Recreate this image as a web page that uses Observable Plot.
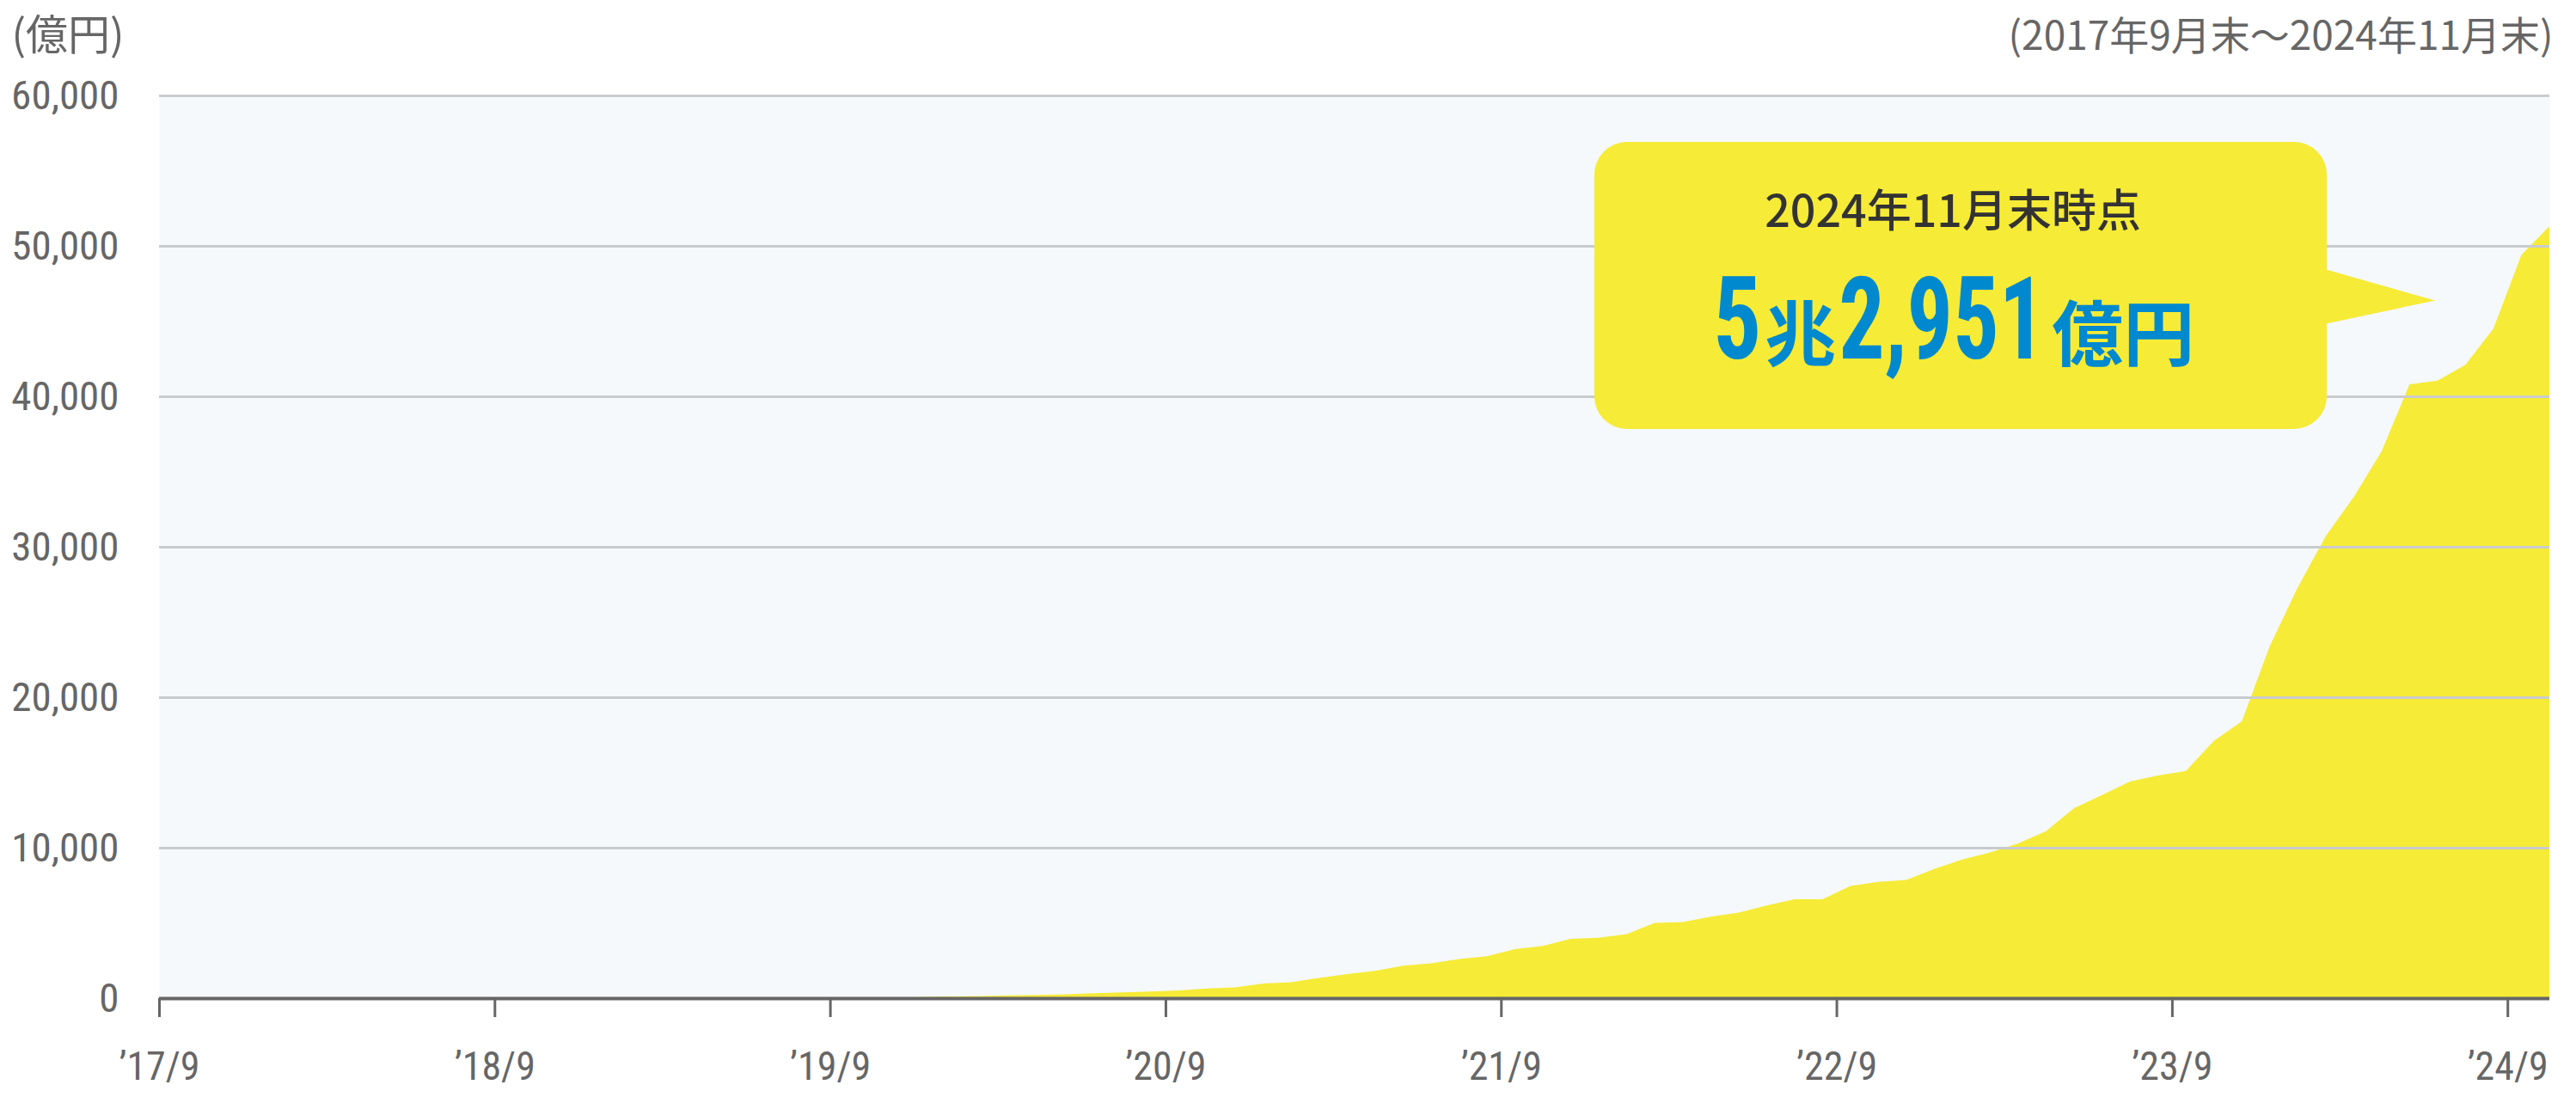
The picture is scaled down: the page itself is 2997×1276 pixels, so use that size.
<!DOCTYPE html>
<html>
<head>
<meta charset="utf-8">
<script src="https://cdn.jsdelivr.net/npm/d3@7"></script>
<script src="https://cdn.jsdelivr.net/npm/@observablehq/plot@0.6"></script>
<style>
  html, body { margin: 0; padding: 0; background: #fff; }
</style>
</head>
<body>
<script>
// Month index: 0 = end of Sep 2017 ... 86 = end of Nov 2024 (unit: 億円)
const monthIndex = d3.range(87);
const values = [
  0, 0, 0, 0, 0, 0, 0, 0, 0, 0,
  0, 0, 0, 0, 0, 0, 0, 0, 0, 0,
  0, 0, 0, 0, 0, 0,
  20, 50, 80, 110, 150, 180, 220, 260, 330, 380,
  440, 510, 650, 720, 970, 1060, 1350, 1600, 1820, 2160,
  2310, 2600, 2790, 3260, 3470, 3950, 4020, 4260, 5000, 5060,
  5420, 5680, 6160, 6570, 6570, 7460, 7730, 7860, 8580, 9220,
  9680, 10280, 11100, 12630, 13500, 14400, 14800, 15100, 17100, 18400,
  23400, 27300, 30700, 33300, 36350, 40800, 41050, 42100, 44500, 49400,
  51300
];
const xTickPositions = [0.5, 12.5, 24.5, 36.5, 48.5, 60.5, 72.5, 84.5];
const xTickLabels = ["’17/9", "’18/9", "’19/9", "’20/9", "’21/9", "’22/9", "’23/9", "’24/9"];
const yTicks = [0, 10000, 20000, 30000, 40000, 50000, 60000];
const unitLabel = "(億円)";
const periodLabel = "(2017年9月末～2024年11月末)";
const calloutTitle = "2024年11月末時点";
const calloutParts = ["5", "兆", "2,951", "億円"];
const calloutKinds = ["num", "cjk", "num", "cjk"];
const calloutWidths = [56, 82, 240, 166];
const calloutGaps = [4, 4, 8];

const data = monthIndex.map((m, i) => ({m, v: values[i]}));

// Callout geometry in data space (month index, 億円)
const callout = {x1: 51.84, x2: 78.04, y1: 37830, y2: 56910};
const pointer = [
  {m: 78.0, v: 48460},
  {m: 81.9, v: 46400},
  {m: 78.0, v: 44860}
];

const NUM_FONT = "'Liberation Sans Narrow', 'Roboto Condensed', 'DejaVu Sans Condensed', 'Noto Sans', sans-serif";
const CJK_FONT = "'Noto Sans CJK JP', 'Noto Sans', sans-serif";
const YELLOW = "#f6eb37";
const GRAY = "#666666";

const plot = Plot.plot({
  width: 2997,
  height: 1276,
  marginTop: 111,
  marginBottom: 115,
  marginLeft: 185,
  marginRight: 31,
  style: {background: "#ffffff", fontFamily: NUM_FONT, color: GRAY},
  x: {domain: [0.5, 86]},
  y: {domain: [0, 60000]},
  marks: [
    Plot.frame({fill: "#f5f9fc", stroke: null}),
    Plot.areaY(data, {x: "m", y: "v", fill: YELLOW, clip: true}),
    Plot.gridY(yTicks.filter(d => d > 0), {stroke: "#c9cbcf", strokeWidth: 3, strokeOpacity: 1}),
    Plot.ruleY([0], {stroke: GRAY, strokeWidth: 4}),
    Plot.axisX(xTickPositions, {
      tickFormat: (d, i) => xTickLabels[i],
      tickSize: 22, tickPadding: 40, stroke: GRAY, strokeWidth: 3,
      fontSize: 46, fill: GRAY, label: null
    }),
    Plot.axisY(yTicks, {
      tickFormat: d3.format(","), tickSize: 0, tickPadding: 47,
      fontSize: 47, fill: GRAY, label: null
    }),
    Plot.text([unitLabel], {
      frameAnchor: "top-left", textAnchor: "start", lineAnchor: "bottom",
      dx: -172, dy: -54, fontSize: 49, fill: GRAY, fontFamily: CJK_FONT
    }),
    Plot.text([periodLabel], {
      frameAnchor: "top-right", textAnchor: "end", lineAnchor: "bottom",
      dx: 4, dy: -54, fontSize: 46, fill: GRAY, fontFamily: CJK_FONT
    }),
    Plot.rect([callout], {x1: "x1", x2: "x2", y1: "y1", y2: "y2", fill: YELLOW, rx: 38}),
    Plot.line(pointer, {x: "m", y: "v", fill: YELLOW, stroke: null}),
    Plot.text([calloutTitle], {
      x: () => 64.65, y: () => 51300, textAnchor: "middle", lineAnchor: "bottom",
      fontSize: 52, fontWeight: 500, fill: "#333333", fontFamily: CJK_FONT
    })
  ]
});

document.body.append(plot);

// Mixed-size big number inside the callout, positioned through the scales
const xs = plot.scale("x"), ys = plot.scale("y");
const cx = xs.apply(64.7), base = ys.apply(42500);
const g = d3.select(plot).append("g")
  .attr("fill", "#0089cf")
  .attr("font-weight", 700)
  .attr("text-anchor", "start");
const total = d3.sum(calloutWidths) + d3.sum(calloutGaps);
let cur = cx - total / 2;
calloutParts.forEach((txt, i) => {
  const isNum = calloutKinds[i] === "num";
  const t = g.append("text")
    .attr("x", cur)
    .attr("y", base + (isNum ? 0 : 2))
    .attr("text-anchor", "start")
    .attr("font-family", isNum ? NUM_FONT : CJK_FONT)
    .attr("font-size", isNum ? 134 : 83)
    .text(txt);
  if (isNum) {
    t.attr("textLength", calloutWidths[i]).attr("lengthAdjust", "spacingAndGlyphs");
  }
  cur += calloutWidths[i] + (calloutGaps[i] || 0);
});
</script>
</body>
</html>
